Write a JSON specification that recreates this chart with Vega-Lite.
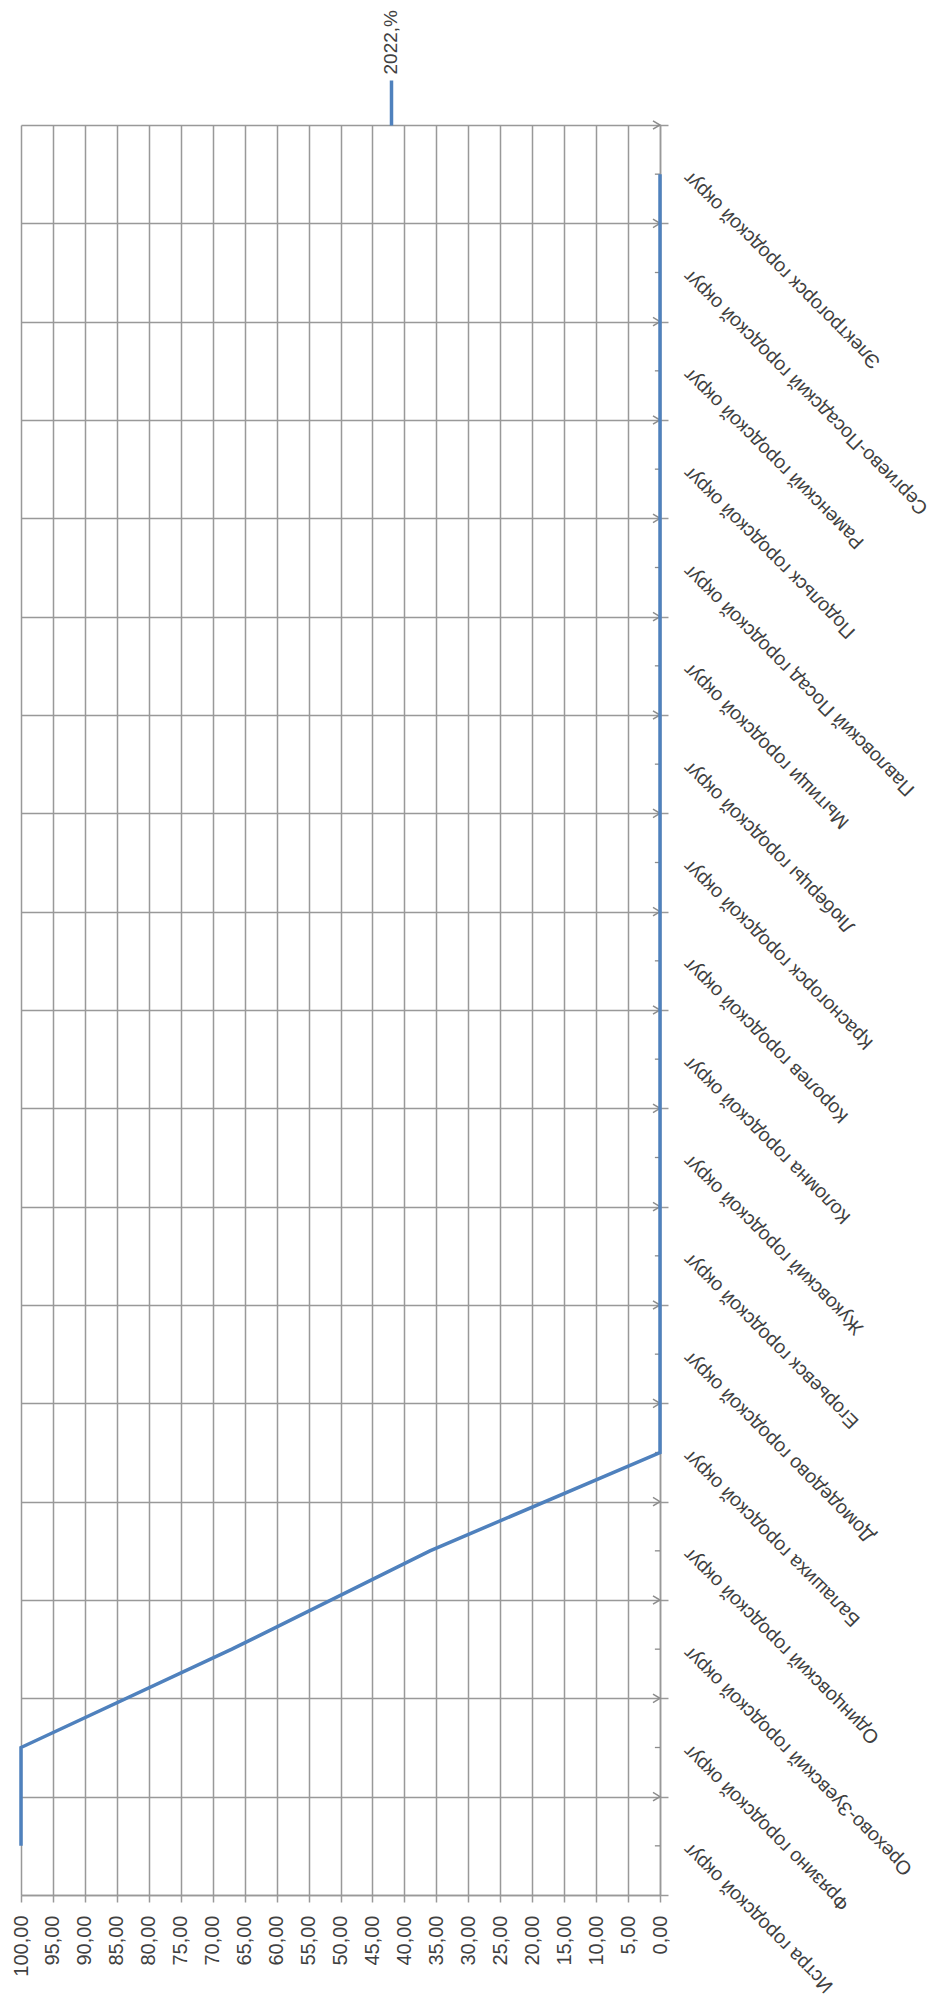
{
  "$schema": "https://vega.github.io/schema/vega-lite/v6.json",
  "width": 639,
  "height": 1770,
  "autosize": {"type": "none"},
  "padding": {"left": 21, "top": 125, "right": 290, "bottom": 107},
  "background": "white",
  "config": {"view": {"stroke": null}, "font": "Liberation Sans"},
  "data": {"values": [
    {"name": "Электрогорск городской округ", "value": 0},
    {"name": "Сергиево-Посадский городской округ", "value": 0},
    {"name": "Раменский городской округ", "value": 0},
    {"name": "Подольск городской округ", "value": 0},
    {"name": "Павловский Посад городской округ", "value": 0},
    {"name": "Мытищи городской округ", "value": 0},
    {"name": "Люберцы  городской округ", "value": 0},
    {"name": "Красногорск городской округ", "value": 0},
    {"name": "Королев городской округ", "value": 0},
    {"name": "Коломна городской округ", "value": 0},
    {"name": "Жуковский городской округ", "value": 0},
    {"name": "Егорьевск городской округ", "value": 0},
    {"name": "Домодедово  городской округ", "value": 0},
    {"name": "Балашиха городской округ", "value": 0},
    {"name": "Одинцовский городской округ", "value": 36},
    {"name": "Орехово-Зуевский городской округ", "value": 67},
    {"name": "Фрязино городской округ", "value": 100},
    {"name": "Истра городской округ", "value": 100}
  ]},
  "layer": [
    {
      "mark": {"type": "point", "shape": "M-1,-0.6L0,0L-1,0.6", "filled": false, "stroke": "#8c8c8c", "strokeWidth": 1.5, "size": 196, "opacity": 1},
      "encoding": {
        "y": {"field": "name", "type": "nominal", "sort": null, "bandPosition": 0, "scale": {"type": "band", "paddingInner": 0, "paddingOuter": 0}},
        "x": {"datum": 0, "type": "quantitative",
          "axis": {"orient": "top", "values": [42.1], "labelExpr": "'2022,%'", "labelAngle": -90, "labelAlign": "left", "labelBaseline": "middle", "labelPadding": 6, "labelFontSize": 19, "labelColor": "#404040", "labelFont": "Liberation Sans", "tickSize": 45, "tickColor": "#4f81bd", "tickWidth": 3.5, "domain": false, "grid": false, "title": null, "labelOverlap": false, "labelFlush": false}}
      }
    },
    {
      "mark": {"type": "rule", "color": "#8c8c8c", "strokeWidth": 1.3},
      "encoding": {
        "y": {"field": "name", "type": "nominal", "sort": null, "scale": {"type": "band", "paddingInner": 0, "paddingOuter": 0}},
        "x": {"datum": 0, "type": "quantitative", "axis": null},
        "x2": {"datum": 0.8}
      }
    },
    {
      "mark": {"type": "line", "strokeWidth": 3.5, "clip": false, "color": "#4f81bd"},
      "encoding": {
        "y": {
          "field": "name", "type": "nominal", "sort": null,
          "scale": {"type": "band", "paddingInner": 0, "paddingOuter": 0},
          "axis": {"orient": "right", "tickBand": "extent", "grid": true, "gridColor": "#999999", "gridWidth": 1.5, "tickSize": 8, "tickColor": "#999999", "tickWidth": 1.5, "domainColor": "#999999", "domainWidth": 1.5, "labelAngle": -135, "labelAlign": "right", "labelBaseline": "middle", "labelPadding": 18, "labelFontSize": 19.5, "labelColor": "#404040", "labelFont": "Liberation Sans", "labelLimit": 600, "labelOverlap": false, "title": null}
        },
        "x": {
          "field": "value", "type": "quantitative",
          "scale": {"domain": [0, 100], "reverse": true, "nice": false},
          "axis": {"orient": "bottom", "values": [0,5,10,15,20,25,30,35,40,45,50,55,60,65,70,75,80,85,90,95,100], "labelExpr": "replace(format(datum.value, '.2f'), '.', ',')", "labelAngle": -90, "labelAlign": "right", "labelBaseline": "middle", "labelPadding": 13, "tickSize": 7, "tickColor": "#999999", "tickWidth": 1.5, "domainColor": "#999999", "domainWidth": 1.5, "grid": true, "gridColor": "#999999", "gridWidth": 1.5, "gridOpacity": 1, "labelFontSize": 20, "labelColor": "#404040", "labelFont": "Liberation Sans", "labelOverlap": false, "labelFlush": false, "title": null}
        }
      }
    }
  ]
}
